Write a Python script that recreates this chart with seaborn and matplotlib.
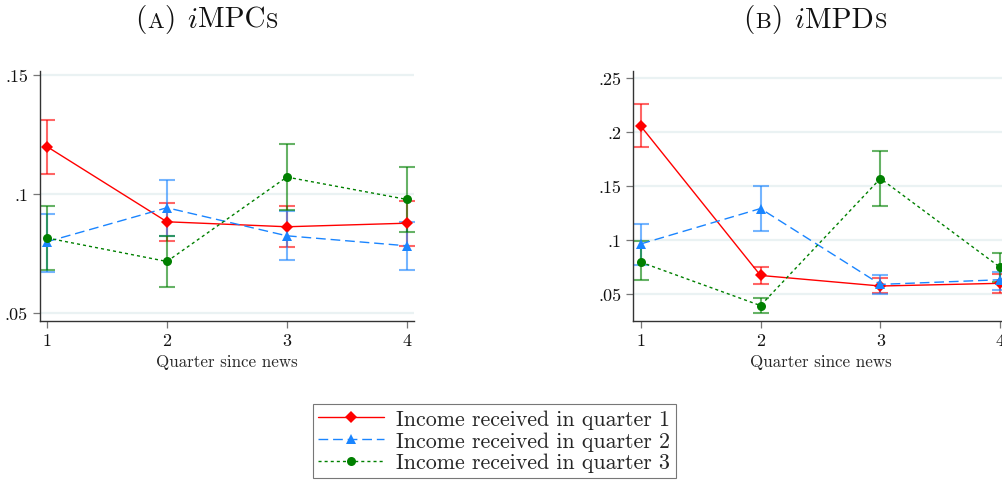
import numpy as np
import pandas as pd
import matplotlib
matplotlib.use("Agg")
import matplotlib.pyplot as plt
import seaborn as sns
from matplotlib.offsetbox import TextArea, HPacker, AnchoredOffsetbox
from matplotlib.lines import Line2D

# ---------------- data ----------------
quarters = [1, 2, 3, 4]
series_names = ["Income received in quarter 1",
                "Income received in quarter 2",
                "Income received in quarter 3"]

# Panel A: iMPCs
mpc_q1 = [0.120, 0.0884, 0.0863, 0.0878]
mpc_q1_lo = [0.1085, 0.0805, 0.0777, 0.0784]
mpc_q1_hi = [0.1314, 0.0964, 0.0949, 0.0971]
mpc_q2 = [0.0800, 0.0943, 0.0825, 0.0783]
mpc_q2_lo = [0.0672, 0.0826, 0.0725, 0.0683]
mpc_q2_hi = [0.0918, 0.1061, 0.0928, 0.0883]
mpc_q3 = [0.0816, 0.0717, 0.1072, 0.0978]
mpc_q3_lo = [0.0683, 0.0610, 0.0932, 0.0839]
mpc_q3_hi = [0.0949, 0.0823, 0.1210, 0.1115]

# Panel B: iMPDs
mpd_q1 = [0.2056, 0.0672, 0.0574, 0.0599]
mpd_q1_lo = [0.1857, 0.0596, 0.0507, 0.0513]
mpd_q1_hi = [0.2258, 0.0749, 0.0648, 0.0681]
mpd_q2 = [0.0963, 0.1291, 0.0589, 0.0632]
mpd_q2_lo = [0.0764, 0.1082, 0.0504, 0.0534]
mpd_q2_hi = [0.1147, 0.1496, 0.0672, 0.0700]
mpd_q3 = [0.0795, 0.0393, 0.1569, 0.0746]
mpd_q3_lo = [0.0626, 0.0323, 0.1318, 0.0610]
mpd_q3_hi = [0.0990, 0.0467, 0.1826, 0.0880]

yticks_a = [0.05, 0.10, 0.15]
yticklabels_a = [".05", ".1", ".15"]
yticks_b = [0.05, 0.10, 0.15, 0.20, 0.25]
yticklabels_b = [".05", ".1", ".15", ".2", ".25"]

# ---------------- style ----------------
sns.set_theme(style="white")
plt.rcParams["font.family"] = ["cmr10", "DejaVu Serif"]
plt.rcParams["axes.formatter.use_mathtext"] = True
plt.rcParams["mathtext.fontset"] = "cm"

colors = {series_names[0]: "#FF0000",
          series_names[1]: "#1A85FF",
          series_names[2]: "#008000"}
markers = {series_names[0]: "D", series_names[1]: "^", series_names[2]: "o"}
dashes = {series_names[0]: "", series_names[1]: (7, 3.5), series_names[2]: (2.2, 2.2)}
msize = {series_names[0]: 6, series_names[1]: 6.5, series_names[2]: 6.5}


def build_df(vals, los, his):
    rows = []
    for name, v, lo, hi in zip(series_names, vals, los, his):
        for q, a, b, c in zip(quarters, v, lo, hi):
            rows.append(dict(quarter=q, value=a, lo=b, hi=c, series=name))
    return pd.DataFrame(rows)


df_a = build_df([mpc_q1, mpc_q2, mpc_q3], [mpc_q1_lo, mpc_q2_lo, mpc_q3_lo],
                [mpc_q1_hi, mpc_q2_hi, mpc_q3_hi])
df_b = build_df([mpd_q1, mpd_q2, mpd_q3], [mpd_q1_lo, mpd_q2_lo, mpd_q3_lo],
                [mpd_q1_hi, mpd_q2_hi, mpd_q3_hi])

W, H = 1003, 481
fig = plt.figure(figsize=(W / 100, H / 100), dpi=100)
axw = 374.3 / W
axh = (321.7 - 72) / H
bottom = 1 - 321.7 / H
ax_a = fig.add_axes([39.7 / W, bottom, axw, axh])
ax_b = fig.add_axes([633.3 / W, bottom, axw, axh])


def draw(ax, df, yticks, ylabels, ylim):
    for ytk in yticks:
        ax.axhline(ytk, color="#EAF2F3", lw=1.6, zorder=0)
    for name in series_names:
        d = df[df.series == name]
        ax.errorbar(d.quarter, d.value, yerr=[d.value - d.lo, d.hi - d.value],
                    fmt="none", ecolor=colors[name], alpha=0.6, capsize=5.5,
                    elinewidth=1.5, capthick=1.5, zorder=2)
    for name in series_names:
        d = df[df.series == name]
        sns.lineplot(data=d, x="quarter", y="value", color=colors[name],
                     marker=markers[name], markersize=msize[name],
                     markeredgewidth=0, lw=1.0, ax=ax, legend=False,
                     zorder=3)
        ln = ax.lines[-1]
        if dashes[name]:
            ln.set_dashes(dashes[name])
    ax.set_xlim(0.939, 4.061)
    ax.set_ylim(*ylim)
    ax.set_xticks(quarters)
    ax.set_xticklabels([str(q) for q in quarters])
    ax.set_yticks(yticks)
    ax.set_yticklabels(ylabels)
    ax.set_xlabel("Quarter since news", fontsize=12.2, labelpad=4)
    ax.set_ylabel("")
    for s in ["top", "right"]:
        ax.spines[s].set_visible(False)
    for s in ["left", "bottom"]:
        ax.spines[s].set_color("#333333")
        ax.spines[s].set_linewidth(1.0)
    ax.tick_params(axis="both", which="major", direction="out", length=5,
                   width=0.9, color="#777777", labelsize=13, pad=3.5,
                   left=True, bottom=True, labelcolor="#111111")
    ax.grid(False)


draw(ax_a, df_a, yticks_a, yticklabels_a, (0.0468, 0.1518))
draw(ax_b, df_b, yticks_b, yticklabels_b, (0.0253, 0.2564))


def title(xc, letter, mid, last):
    big = dict(fontsize=21, family="cmr10", color="#111111")
    small = dict(fontsize=16, family="cmr10", color="#111111")
    ital = dict(fontsize=21, family="cmmi10", color="#111111")
    parts = [TextArea("(", textprops=big), TextArea(letter, textprops=small),
             TextArea(")", textprops=big), TextArea(" ", textprops=big),
             TextArea("i", textprops=ital), TextArea(mid, textprops=big),
             TextArea(last, textprops=small)]
    box = HPacker(children=parts, align="baseline", pad=0, sep=0.5)
    ab = AnchoredOffsetbox(loc="center", child=box, pad=0, borderpad=0,
                           bbox_to_anchor=(xc / W, 1 - 20 / H),
                           bbox_transform=fig.transFigure, frameon=False)
    fig.add_artist(ab)


title(207, "A", "MPC", "S")
title(815, "B", "MPD", "S")

handles = []
for name in series_names:
    h = Line2D([], [], color=colors[name], marker=markers[name],
               markersize=msize[name], markeredgewidth=0, lw=1.0)
    if dashes[name]:
        h.set_dashes(dashes[name])
    handles.append(h)
leg = fig.legend(handles, series_names, loc="upper left",
                 bbox_to_anchor=(313 / W, 1 - 405 / H), ncol=1,
                 fontsize=15.8, frameon=True, fancybox=False,
                 edgecolor="#555555", handlelength=3.0, handletextpad=0.55,
                 labelspacing=0.1, borderpad=0.25, borderaxespad=0)
leg.get_frame().set_linewidth(0.8)

fig.savefig("out.png", dpi=100)
